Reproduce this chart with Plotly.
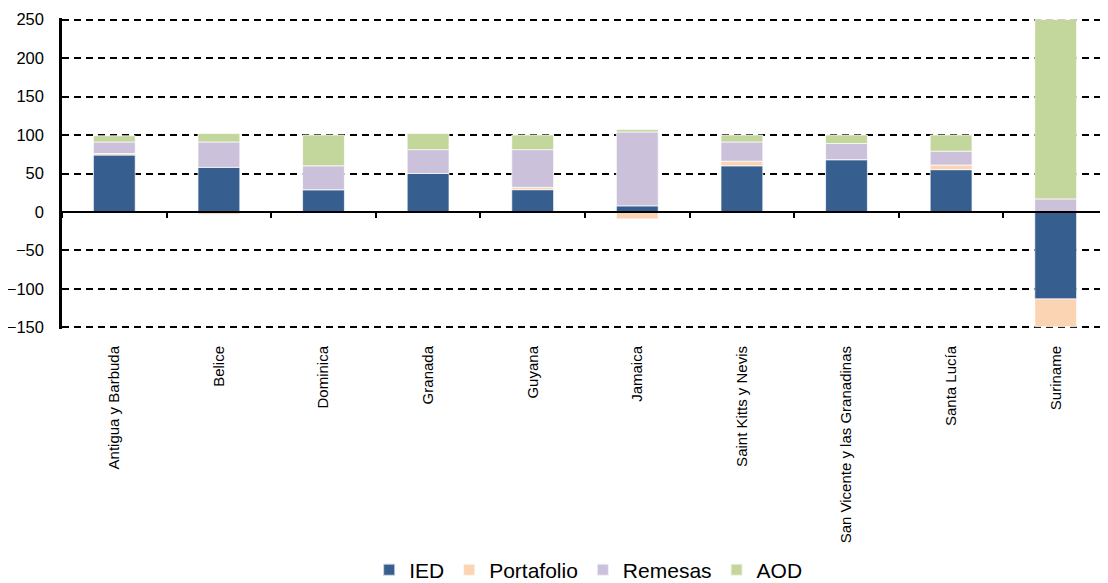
import plotly.graph_objects as go

categories = ["Antigua y Barbuda", "Belice", "Dominica", "Granada", "Guyana", "Jamaica",
              "Saint Kitts y Nevis", "San Vicente y las Granadinas", "Santa Lucía", "Suriname"]
ied = [74, 58, 29, 50, 29, 8, 60, 68, 55, -113]
portafolio = [2, -3, 0, -1, 3, -9, 6, 0, 6, -36]
remesas = [15, 33, 31, 31, 49, 96, 25, 21, 18, 17]
aod = [8, 11, 40, 21, 19, 3, 9, 11, 21, 233]
y_ticks = [-150, -100, -50, 0, 50, 100, 150, 200, 250]

series = [("IED", ied, "#365F90"), ("Portafolio", portafolio, "#FBD4B4"),
          ("Remesas", remesas, "#CCC1DA"), ("AOD", aod, "#C3D69B")]

fig = go.Figure()
for name, vals, col in series:
    fig.add_trace(go.Bar(x=categories, y=vals, name=name, marker_color=col,
                         marker_line=dict(color="rgba(255,255,255,0.7)", width=1)))

# invisible trace on second x axis to draw the zero axis ticks
fig.add_trace(go.Bar(x=categories, y=[0]*len(categories), xaxis="x2", showlegend=False,
                     hoverinfo="skip", marker_color="rgba(0,0,0,0)"))

font = "Liberation Sans, Arial, sans-serif"
ymin, ymax = -152, 252
# the page body has an 8px margin, so the figure is 8px smaller and margins shifted
fig.update_layout(
    width=1100, height=575,
    barmode="relative", bargap=0.6,
    plot_bgcolor="white", paper_bgcolor="white",
    margin=dict(l=54, r=0, t=10, b=254, autoexpand=False),
    font=dict(family=font, color="black"),
    showlegend=True,
    legend=dict(orientation="h", x=0.503, xanchor="center", y=-0.775, yanchor="middle",
                font=dict(size=21), itemwidth=30, traceorder="normal",
                itemsizing="constant"),
    xaxis=dict(tickangle=-90, tickfont=dict(size=15), showgrid=False, showline=False,
               ticks="", ticklabelstandoff=13, range=[-0.5, 9.5], automargin=False),
    xaxis2=dict(overlaying="x", matches="x", anchor="free",
                position=(0 - ymin) / (ymax - ymin), side="bottom",
                showline=True, linecolor="black", linewidth=2, ticks="outside",
                tickson="boundaries", ticklen=5, tickwidth=1.5, tickcolor="black",
                showticklabels=False, showgrid=False, automargin=False),
    yaxis=dict(range=[ymin, ymax], tickvals=y_ticks, tickfont=dict(size=16.5),
               showgrid=True, gridcolor="black", griddash="7px,5px", gridwidth=1.5,
               zeroline=False, showline=True, linecolor="black", linewidth=2.5,
               ticks="inside", ticklen=5, tickwidth=1.5, tickcolor="black",
               ticklabelstandoff=12, automargin=False),
)
fig.write_html("out.html")
